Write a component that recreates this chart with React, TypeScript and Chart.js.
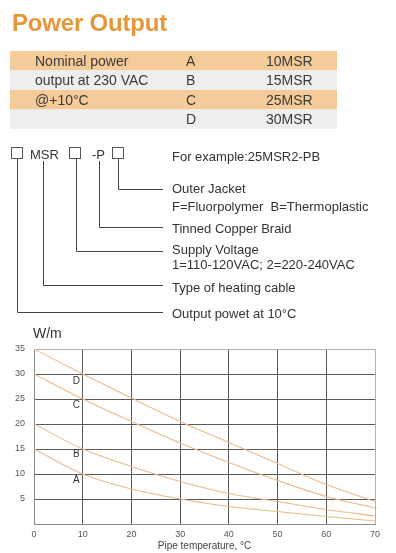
import React, { useEffect, useRef } from 'react';
import { Chart, registerables } from 'chart.js';

Chart.register(...registerables);

// ---- Chart data ----
const temps = [0, 10, 20, 30, 40, 50, 60, 70];
const seriesA = [15, 10, 7, 5, 3.5, 2.5, 1.5, 0.6];
const seriesB = [20, 15, 11.5, 8.5, 6.1, 4.5, 2.9, 1.6];
const seriesC = [30, 25, 20.5, 16.2, 12.3, 8.7, 5.5, 3.2];
const seriesD = [35, 30, 25.2, 20.5, 16.3, 12.1, 7.9, 4.5];
const seriesNames = ['A', 'B', 'C', 'D'];
const curveLabelX = 8.7;
const curveLabelY = [8.8, 13.9, 23.8, 28.6];
const yMax = 35;
const xMax = 70;
const yStep = 5;
const xStep = 10;
const yUnit = 'W/m';
const xTitle = 'Pipe temperature, °C';

// ---- Header / table / diagram texts ----
const titleText = 'Power Output';
const tableCol1 = ['Nominal power', 'output at 230 VAC', '@+10°C', ''];
const tableCol2 = ['A', 'B', 'C', 'D'];
const tableCol3 = ['10MSR', '15MSR', '25MSR', '30MSR'];
const codeParts = ['MSR', '-P'];
const diagramTexts = [
  'For example:25MSR2-PB',
  'Outer Jacket',
  'F=Fluorpolymer  B=Thermoplastic',
  'Tinned Copper Braid',
  'Supply Voltage',
  '1=110-120VAC; 2=220-240VAC',
  'Type of heating cable',
  'Output powet at 10°C',
];

const FONT = '"Liberation Sans", Arial, Helvetica, sans-serif';
const LINE_COLOR = '#e8bb8a';

const curveLabelPlugin = {
  id: 'curveLabels',
  afterDatasetsDraw(chart: any) {
    const { ctx, scales } = chart;
    const x = scales.x;
    const y = scales.y;
    ctx.save();
    ctx.font = '10px ' + FONT;
    ctx.fillStyle = '#333';
    ctx.textAlign = 'center';
    ctx.textBaseline = 'middle';
    seriesNames.forEach((n, i) => {
      ctx.fillText(n, x.getPixelForValue(curveLabelX), y.getPixelForValue(curveLabelY[i]));
    });
    ctx.restore();
  },
};

function PowerChart() {
  const ref = useRef<HTMLCanvasElement | null>(null);
  useEffect(() => {
    if (!ref.current) return;
    const all = [seriesA, seriesB, seriesC, seriesD];
    const chart = new Chart(ref.current, {
      type: 'line',
      data: {
        datasets: all.map((s, i) => ({
          label: seriesNames[i],
          data: temps.map((t, j) => ({ x: t, y: s[j] })),
          borderColor: LINE_COLOR,
          borderWidth: 1.1,
          pointRadius: 0,
          fill: false,
          cubicInterpolationMode: 'monotone' as const,
        })),
      },
      options: {
        animation: false,
        responsive: false,
        devicePixelRatio: 1,
        layout: { padding: { top: 24, right: 21, left: 0, bottom: 0 } },
        plugins: { legend: { display: false }, tooltip: { enabled: false } },
        scales: {
          x: {
            type: 'linear',
            min: 0,
            max: xMax,
            ticks: { stepSize: xStep, padding: 5, maxRotation: 0, color: '#555', font: { size: 9, family: FONT } },
            grid: {
              drawTicks: false,
              lineWidth: 1,
              color: (c: any) => (c.tick && c.tick.value === xMax ? '#b0b0b0' : '#5a5a5a'),
            },
            border: { color: '#8a8a8a' },
            title: {
              display: true,
              text: xTitle,
              color: '#444',
              font: { size: 10, family: FONT },
              padding: { top: 0, bottom: 1 },
            },
            afterFit: (s: any) => {
              s.height = 29;
            },
          },
          y: {
            type: 'linear',
            min: 0,
            max: yMax,
            ticks: {
              stepSize: yStep,
              padding: 9,
              color: '#555',
              font: { size: 9, family: FONT },
              callback: (v: any) => (v === 0 ? '' : String(v)),
            },
            grid: {
              drawTicks: false,
              lineWidth: 1,
              color: (c: any) => (c.tick && c.tick.value === yMax ? '#b0b0b0' : '#5a5a5a'),
            },
            border: { color: '#8a8a8a' },
            afterFit: (s: any) => {
              s.width = 34;
            },
          },
        },
      },
      plugins: [curveLabelPlugin],
    } as any);
    return () => chart.destroy();
  }, []);
  return (
    <canvas
      ref={ref}
      width={396}
      height={228}
      style={{ position: 'absolute', left: 0, top: 325, width: 396, height: 228, display: 'block' }}
    />
  );
}

export default function App() {
  const rowTops = [51, 70.5, 90, 109.5];
  const rowFills = ['#f5cc99', '#eeeeee', '#f5cc99', '#eeeeee'];
  const diagramBaselines = [161, 192.7, 210.7, 232.7, 254.3, 269, 291.7, 317.7];
  const stroke = '#444';
  return (
    <div style={{ position: 'absolute', left: 0, top: 0, width: 396, height: 553, background: '#fff', overflow: 'hidden' }}>
      <PowerChart />
      <svg
        width={396}
        height={553}
        style={{ position: 'absolute', left: 0, top: 0, pointerEvents: 'none' }}
        fontFamily={FONT}
      >
        <text x={12} y={31} fontSize={24} fontWeight="bold" fill="#e8963a" letterSpacing={-0.2}>
          {titleText}
        </text>
        {rowTops.map((t, i) => (
          <rect key={'r' + i} x={10} y={t} width={327} height={19.5} fill={rowFills[i]} />
        ))}
        {rowTops.map((t, i) => (
          <g key={'t' + i} fontSize={14} fill="#3a3a3a">
            <text x={35} y={t + 14.7}>{tableCol1[i]}</text>
            <text x={186} y={t + 14.7}>{tableCol2[i]}</text>
            <text x={266} y={t + 14.7}>{tableCol3[i]}</text>
          </g>
        ))}
        <g fill="none" stroke="#555" strokeWidth={1}>
          <rect x={11.5} y={147.5} width={11} height={11} />
          <rect x={69.5} y={147.5} width={11} height={11} />
          <rect x={112.5} y={147.5} width={11} height={11} />
        </g>
        <g fontSize={13} fill="#333">
          <text x={30} y={158.5}>{codeParts[0]}</text>
          <text x={92} y={158.5}>{codeParts[1]}</text>
          {diagramTexts.map((s, i) => (
            <text key={'d' + i} x={172} y={diagramBaselines[i]} style={{ whiteSpace: 'pre' }}>
              {s}
            </text>
          ))}
        </g>
        <g fill="none" stroke={stroke} strokeWidth={1}>
          <polyline points="17.5,159 17.5,312.5 163,312.5" />
          <polyline points="43.5,161 43.5,285.5 163,285.5" />
          <polyline points="76.5,159 76.5,251.5 163,251.5" />
          <polyline points="99.5,161 99.5,227.5 163,227.5" />
          <polyline points="118.5,159 118.5,189.5 163,189.5" />
        </g>
        <text x={33} y={338} fontSize={14} fill="#333">
          {yUnit}
        </text>
      </svg>
    </div>
  );
}
